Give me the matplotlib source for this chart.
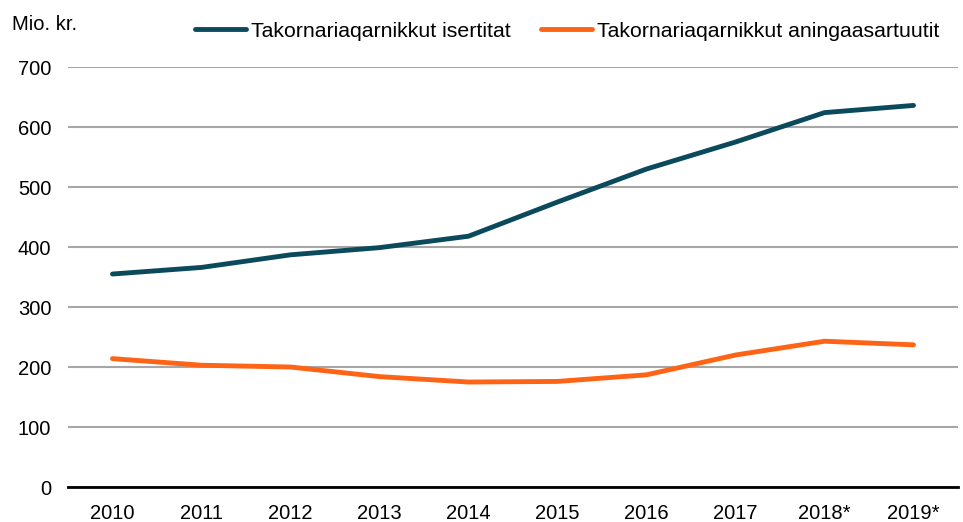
import matplotlib.pyplot as plt

years = ["2010", "2011", "2012", "2013", "2014", "2015", "2016", "2017", "2018*", "2019*"]
isertitat = [355, 366, 387, 399, 418, 475, 530, 575, 624, 636]
aningaasartuutit = [214, 203, 200, 184, 175, 176, 187, 220, 243, 237]

plt.rcParams['font.family'] = ['Liberation Sans', 'DejaVu Sans']
fs = 14.5

fig = plt.figure(figsize=(9.63, 5.22), dpi=100)
ax = fig.add_axes([0.0706, 0.067, 0.9242, 0.8046])

x = range(len(years))
ax.plot(x, isertitat, color="#0B4A5C", lw=3.5, solid_capstyle="round",
        label="Takornariaqarnikkut isertitat", zorder=3)
ax.plot(x, aningaasartuutit, color="#FF6315", lw=3.5, solid_capstyle="round",
        label="Takornariaqarnikkut aningaasartuutit", zorder=3)

ax.set_xlim(-0.5, len(years) - 0.5)
ax.set_ylim(0, 700)
ax.set_yticks(range(0, 701, 100))
ax.set_xticks(list(x))
ax.set_xticklabels(years)
ax.tick_params(length=0, colors="#000000", labelsize=fs)
ax.tick_params(axis="y", pad=12)
ax.tick_params(axis="x", pad=12)

ax.grid(axis="y", color="#A6A6A6", lw=1.5, zorder=0)
for s in ["top", "right", "left"]:
    ax.spines[s].set_visible(False)
ax.spines["bottom"].set_color("#000000")
ax.spines["bottom"].set_linewidth(2)
ax.spines["bottom"].set_zorder(4)

fig.text(12 / 963, 1 - 25 / 522, "Mio. kr.", fontsize=fs, va="center", ha="left")

fig.legend(loc="center", bbox_to_anchor=(567 / 963, 1 - 31 / 522), ncol=2,
           frameon=False, fontsize=15.3, handlelength=2.4, handletextpad=0.25,
           columnspacing=1.4, borderaxespad=0, borderpad=0)

fig.savefig("out.png", dpi=100)
